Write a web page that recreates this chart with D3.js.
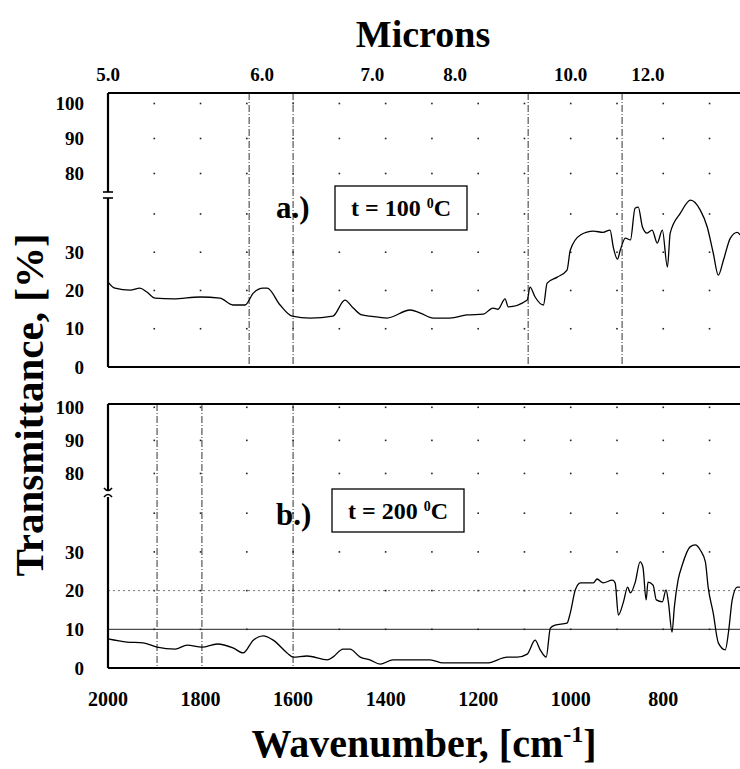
<!DOCTYPE html>
<html>
<head>
<meta charset="utf-8">
<script src="https://cdn.jsdelivr.net/npm/d3@7"></script>
<style>
  body { margin: 0; background: #fff; }
  text { font-family: "Liberation Serif", "Times New Roman", serif; font-weight: bold; fill: #000; }
</style>
</head>
<body>
<svg id="chart" width="740" height="769"></svg>
<script>
// spectra: wavenumber (cm-1) / transmittance (%)
const waveA = [2000, 1985, 1952, 1931, 1916, 1898, 1859, 1801, 1758, 1730, 1704, 1686, 1665, 1656, 1628, 1602, 1563, 1514, 1488, 1470, 1451, 1434, 1397, 1347, 1325, 1297, 1261, 1224, 1189, 1168, 1157, 1142, 1135, 1094, 1088, 1077, 1059, 1051, 1029, 1008, 1001, 979, 951, 930, 915, 908, 899, 893, 882, 871, 861, 854, 845, 835, 824, 813, 802, 791, 785, 763, 741, 720, 705, 692, 681, 670, 655, 640, 634];
const transA = [22.2, 20.6, 20.1, 20.6, 19.6, 18.0, 17.8, 18.3, 18.0, 16.2, 16.2, 19.3, 20.6, 20.6, 16.2, 13.3, 12.8, 13.3, 17.5, 15.4, 13.6, 13.3, 12.8, 14.9, 14.1, 12.8, 12.8, 13.6, 13.8, 15.4, 15.1, 17.8, 15.7, 17.5, 20.9, 18.3, 16.2, 21.9, 23.5, 25.3, 30.5, 34.5, 35.5, 35.2, 35.8, 31.3, 28.2, 30.5, 33.7, 33.2, 41.5, 41.8, 36.6, 35.0, 35.8, 32.4, 35.8, 26.1, 35.0, 40.2, 43.6, 41.0, 36.6, 29.8, 24.0, 27.9, 33.7, 35.2, 34.5];

const waveB = [2000, 1959, 1924, 1894, 1855, 1829, 1797, 1764, 1730, 1708, 1686, 1665, 1643, 1613, 1600, 1570, 1526, 1514, 1492, 1477, 1455, 1434, 1412, 1384, 1353, 1304, 1276, 1181, 1137, 1116, 1094, 1077, 1066, 1053, 1044, 1034, 1008, 1001, 990, 979, 951, 943, 930, 910, 904, 897, 886, 877, 871, 861, 850, 844, 837, 833, 822, 815, 802, 794, 789, 781, 776, 768, 759, 742, 731, 720, 709, 703, 692, 681, 666, 659, 651, 640, 634];
const transB = [7.5, 6.7, 6.5, 5.4, 4.9, 5.9, 5.4, 6.2, 5.2, 3.9, 7.2, 8.3, 7.2, 3.9, 2.8, 3.1, 2.1, 2.8, 4.9, 4.9, 2.8, 2.1, 1.0, 2.1, 2.1, 2.1, 1.3, 1.3, 2.8, 2.8, 3.6, 7.2, 4.7, 2.8, 10.3, 11.1, 11.6, 14.2, 20.2, 22.0, 22.0, 23.0, 22.0, 22.7, 22.0, 13.7, 17.1, 20.9, 19.4, 22.0, 27.4, 26.1, 17.6, 22.2, 21.4, 17.6, 17.1, 20.2, 17.1, 9.3, 15.8, 22.7, 26.6, 31.3, 31.8, 30.5, 27.4, 20.9, 14.2, 6.5, 4.7, 9.3, 17.6, 20.9, 20.9];

const waveTicks = [2000, 1800, 1600, 1400, 1200, 1000, 800];
const micronTicks = [5, 6, 7, 8, 10, 12];
const yTicks = [0, 10, 20, 30, 80, 90, 100];
const dotRows = [10, 20, 30, 40, 80, 90, 100];
const dotCols = [1900, 1800, 1700, 1600, 1500, 1400, 1300, 1200, 1100, 1000, 900, 800, 700];
const markLinesA = [1695, 1600, 1092, 889];
const markLinesB = [1894, 1797, 1600];

const svg = d3.select("#chart");
const left = 108, right = 741;

const x = d3.scaleLinear().domain([2000, 632]).range([left, right]);

// broken y axis: 0-46 below the break, 75-100 above it
const panels = [
  {
    wave: waveA, trans: transA, marks: markLinesA, label: "a.)", temp: "100",
    y: d3.scaleLinear().domain([0, 46, 75, 103]).range([367, 191, 191, 93]),
    labelY: 218, box: [335, 186, 132, 44], breakStyle: "bars", hLines: false
  },
  {
    wave: waveB, trans: transB, marks: markLinesB, label: "b.)", temp: "200",
    y: d3.scaleLinear().domain([0, 46, 75, 101]).range([668, 490, 490, 404]),
    labelY: 525, box: [332, 489, 132, 43], breakStyle: "wave", hLines: true
  }
];

const line = d3.line()
  .x(d => x(d[0]))
  .curve(d3.curveMonotoneX);

panels.forEach(p => {
  const g = svg.append("g");
  const y = p.y;
  const yTop = y.range()[3], yBot = y.range()[0], yBrk = y(46);

  // dotted grid: dots at the grid crossings
  const cells = [];
  dotCols.forEach(c => dotRows.forEach(r => cells.push([c, r])));
  g.selectAll(".dot")
    .data(cells)
    .enter().append("rect")
    .attr("x", d => x(d[0]) - 0.8)
    .attr("y", d => y(d[1]) - 0.8)
    .attr("width", 1.6)
    .attr("height", 1.6)
    .attr("fill", "#222");

  if (p.hLines) {
    g.append("line")
      .attr("x1", left).attr("x2", right)
      .attr("y1", y(20)).attr("y2", y(20))
      .attr("stroke", "#555").attr("stroke-width", 0.8)
      .attr("stroke-dasharray", "2,3");
    g.append("line")
      .attr("x1", left).attr("x2", right)
      .attr("y1", y(10)).attr("y2", y(10))
      .attr("stroke", "#222").attr("stroke-width", 1);
  }

  // dash-dot marker lines
  g.selectAll(".mark")
    .data(p.marks)
    .enter().append("line")
    .attr("x1", d => x(d)).attr("x2", d => x(d))
    .attr("y1", yTop).attr("y2", yBot)
    .attr("stroke", "#333")
    .attr("stroke-width", 1)
    .attr("stroke-dasharray", "7,2,1,2");

  // frame: top, bottom, broken left edge
  g.append("line")
    .attr("x1", left).attr("x2", right)
    .attr("y1", yTop).attr("y2", yTop)
    .attr("stroke", "#000").attr("stroke-width", 2);
  g.append("line")
    .attr("x1", left).attr("x2", right)
    .attr("y1", yBot).attr("y2", yBot)
    .attr("stroke", "#000").attr("stroke-width", 2);
  g.append("line")
    .attr("x1", left).attr("x2", left)
    .attr("y1", yTop).attr("y2", yBrk + 1)
    .attr("stroke", "#000").attr("stroke-width", 2.2);
  g.append("line")
    .attr("x1", left).attr("x2", left)
    .attr("y1", yBrk + 7).attr("y2", yBot)
    .attr("stroke", "#000").attr("stroke-width", 2.2);

  if (p.breakStyle === "bars") {
    [yBrk + 1, yBrk + 7].forEach(yy => {
      g.append("line")
        .attr("x1", left - 5).attr("x2", left + 5)
        .attr("y1", yy).attr("y2", yy)
        .attr("stroke", "#000").attr("stroke-width", 1.6);
    });
  } else {
    g.append("path")
      .attr("d", `M${left - 4},${yBrk - 2} q4,5 8,0 M${left - 4},${yBrk + 7} q4,-5 8,0`)
      .attr("fill", "none").attr("stroke", "#000").attr("stroke-width", 1.6);
  }

  // y tick labels
  g.selectAll(".ytick")
    .data(yTicks)
    .enter().append("text")
    .attr("x", 84)
    .attr("y", d => y(d))
    .attr("dy", "0.35em")
    .attr("text-anchor", "end")
    .style("font-size", "19px")
    .text(d => d);

  // spectrum
  const pts = p.wave.map((w, i) => [w, p.trans[i]]);
  g.append("path")
    .datum(pts)
    .attr("fill", "none")
    .attr("stroke", "#000")
    .attr("stroke-width", 1.3)
    .attr("d", line.y(d => y(d[1])));

  // panel label + temperature box
  g.append("text")
    .attr("x", 276).attr("y", p.labelY)
    .style("font-size", "31px")
    .text(p.label);
  g.append("rect")
    .attr("x", p.box[0]).attr("y", p.box[1])
    .attr("width", p.box[2]).attr("height", p.box[3])
    .attr("fill", "#fff").attr("stroke", "#000").attr("stroke-width", 1.3);
  const t = g.append("text")
    .attr("x", p.box[0] + p.box[2] / 2)
    .attr("y", p.box[1] + p.box[3] / 2 + 8)
    .attr("text-anchor", "middle")
    .style("font-size", "24px");
  t.append("tspan").text("t = " + p.temp + " ");
  t.append("tspan").attr("dy", -8).style("font-size", "14px").text("0");
  t.append("tspan").attr("dy", 8).text("C");
});

// top axis in microns (10000 / um = cm-1)
svg.selectAll(".micron")
  .data(micronTicks)
  .enter().append("text")
  .attr("x", d => x(10000 / d))
  .attr("y", 81)
  .attr("text-anchor", "middle")
  .style("font-size", "19px")
  .text(d => d.toFixed(1));

// bottom axis
svg.selectAll(".wave")
  .data(waveTicks)
  .enter().append("text")
  .attr("x", d => x(d))
  .attr("y", 706)
  .attr("text-anchor", "middle")
  .style("font-size", "20px")
  .text(d => d);

svg.append("text")
  .attr("x", 423).attr("y", 47)
  .attr("text-anchor", "middle")
  .style("font-size", "38px")
  .text("Microns");

const xt = svg.append("text")
  .attr("x", 424).attr("y", 757)
  .attr("text-anchor", "middle")
  .style("font-size", "40px");
xt.append("tspan").text("Wavenumber, [cm");
xt.append("tspan").attr("dy", -15).style("font-size", "24px").text("-1");
xt.append("tspan").attr("dy", 15).text("]");

svg.append("text")
  .attr("transform", "translate(43,405) rotate(-90)")
  .attr("text-anchor", "middle")
  .style("font-size", "41px")
  .text("Transmittance, [%]");
</script>
</body>
</html>
